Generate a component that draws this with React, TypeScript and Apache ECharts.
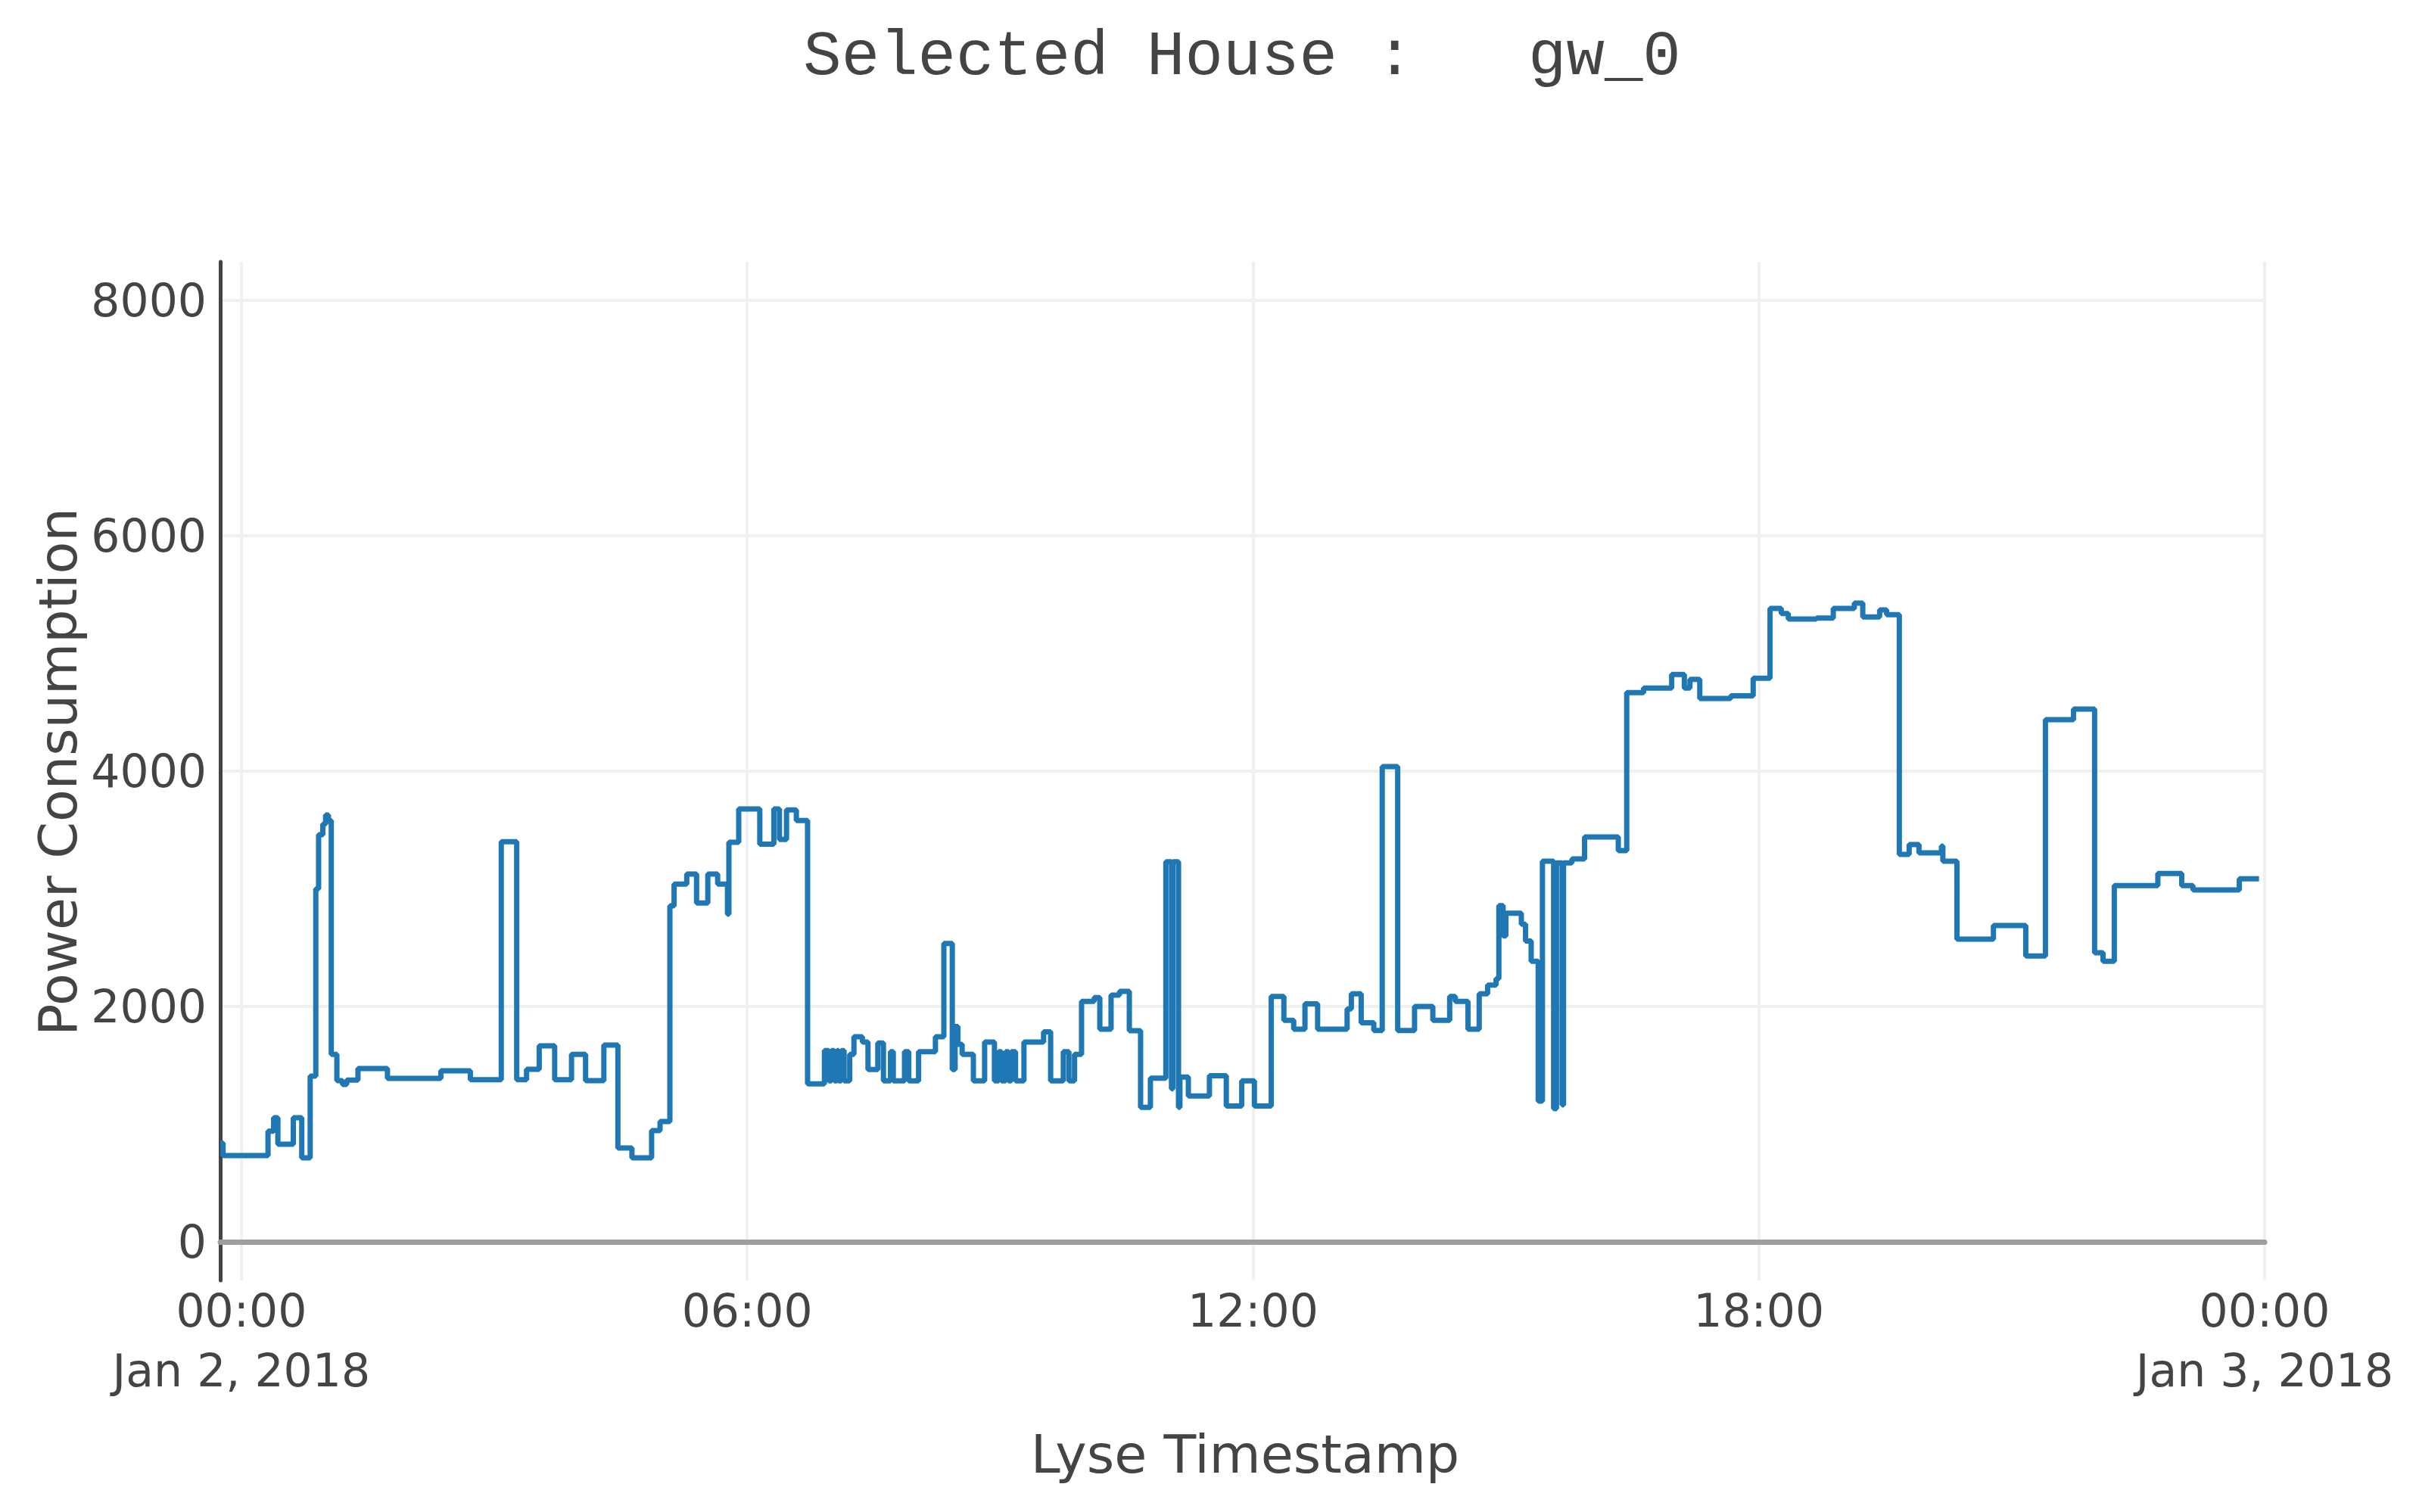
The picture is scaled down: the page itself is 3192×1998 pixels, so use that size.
import React, { useEffect, useRef } from "react";
import * as echarts from "echarts";

// Minutes after 2018-01-02 00:00 (negative = Jan 1 evening)
const sampleMinutes = [
  -15, -13, 19, 23, 26, 37, 43, 49, 53, 55, 58, 60, 62, 64, 68, 72, 75, 83,
  104, 142, 163, 185, 196, 203, 212, 223, 235, 245, 258, 268, 278, 292, 298,
  305, 308, 317, 324, 332, 339, 346, 347, 354, 369, 379, 383, 388, 395, 403,
  415, 418, 420, 422, 424, 425, 427, 429, 433, 436, 442, 446, 453, 457, 462,
  464, 472, 475, 482, 494, 500, 506, 508, 510, 513, 521, 529, 536, 539, 541,
  544, 546, 548, 551, 557, 571, 576, 585, 589, 593, 598, 607, 611, 619, 625,
  632, 640, 647, 658, 662, 663, 667, 668, 674, 689, 701, 712, 721, 733, 742,
  749, 757, 766, 787, 790, 797, 806, 812, 823, 835, 848, 860, 864, 873, 881,
  887, 893, 895, 898, 900, 911, 914, 918, 923, 926, 934, 936, 940, 941, 947,
  956, 980, 986, 998, 1018, 1027, 1031, 1038, 1060, 1076, 1088, 1096, 1101,
  1121, 1133, 1148, 1154, 1166, 1171, 1180, 1187, 1194, 1210, 1211, 1221,
  1247, 1270, 1284, 1304, 1319, 1325, 1333, 1364, 1381, 1389, 1422, 1436,
];

const powerConsumption = [
  840, 733, 940, 1055, 829, 1055, 714, 1408, 3000, 3460, 3550, 3627, 3580, 1594, 1369, 1337, 1375, 1472,
  1389, 1453, 1377, 3401, 1377, 1466, 1665, 1377, 1594, 1369, 1672, 797, 714, 945, 1022,
  2855, 3040, 3125, 2880, 3125, 3040, 2784, 3395, 3678, 3380, 3678, 3420, 3670, 3580, 1343,
  1625, 1368, 1625, 1368, 1625, 1368, 1625, 1368, 1593, 1743, 1698, 1464, 1690, 1368, 1615,
  1368, 1615, 1368, 1615, 1743, 2535, 1464, 1830, 1678, 1593, 1368, 1698, 1368, 1615, 1368,
  1615, 1368, 1615, 1368, 1698, 1785, 1368, 1615, 1368, 1593, 2043, 2075, 1807, 2097, 2129,
  1795, 1143, 1390, 3230, 1300, 3230, 1143, 1400, 1239, 1411, 1154, 1368, 1154, 2086, 1882,
  1807, 2022, 1807, 1979, 2107, 1861, 1796, 4038, 1796, 2000, 1882, 2086, 2043, 1807, 2107,
  2182, 2236, 2857, 2600, 2793, 2700, 2557, 2384, 1196, 3234, 1132, 3220, 1164, 3221, 3254,
  3440, 3324, 4668, 4706, 4822, 4706, 4780, 4617, 4640, 4790, 5382, 5340, 5292,
  5300, 5382, 5427, 5311, 5369, 5330, 3292, 3376, 3305, 3363, 3234, 2572,
  2688, 2430, 4437, 4527, 2456, 2385, 3028, 3131, 3028, 2990, 3086, 3086,
];

const xTickMinutes = [0, 360, 720, 1080, 1440];
const yTickValues = [0, 2000, 4000, 6000, 8000];
const MONTHS = ["Jan", "Feb", "Mar", "Apr", "May", "Jun", "Jul", "Aug", "Sep", "Oct", "Nov", "Dec"];
const BASE_DATE = new Date(2018, 0, 2);

const TITLE = "Selected House :\u00A0\u00A0\u00A0gw_0";
const X_TITLE = "Lyse Timestamp";
const Y_TITLE = "Power Consumption";

const pad = (n: number) => (n < 10 ? "0" + n : String(n));

function tickLabel(m: number): string {
  const d = new Date(BASE_DATE.getTime() + m * 60000);
  const hhmm = pad(d.getHours()) + ":" + pad(d.getMinutes());
  if (d.getHours() === 0 && d.getMinutes() === 0) {
    return hhmm + "\n" + MONTHS[d.getMonth()] + " " + d.getDate() + ", " + d.getFullYear();
  }
  return hhmm;
}

export default function App() {
  const ref = useRef<HTMLDivElement>(null);

  useEffect(() => {
    if (!ref.current) return;
    const chart = echarts.init(ref.current, null, { renderer: "svg" });
    const data = sampleMinutes.map((m, i) => [m, powerConsumption[i]]);
    const sans = "'DejaVu Sans', Verdana, sans-serif";

    chart.setOption({
      animation: false,
      backgroundColor: "#ffffff",
      grid: { left: 291, right: 200, top: 346, bottom: 306, containLabel: false },
      xAxis: {
        type: "value",
        min: -15,
        max: 1440,
        axisLine: { show: true, onZero: true, lineStyle: { color: "#9e9e9e", width: 7 } },
        axisTick: { show: false, customValues: xTickMinutes },
        axisLabel: {
          customValues: xTickMinutes,
          formatter: (v: number) => tickLabel(v),
          fontFamily: sans,
          fontSize: 60,
          lineHeight: 79,
          color: "#444444",
          margin: 0,
        },
        splitLine: { show: true, lineStyle: { color: "#f0f0f0", width: 4 } },
      },
      yAxis: {
        type: "value",
        min: -328,
        max: 8328,
        axisLine: { show: true, onZero: false, lineStyle: { color: "#444444", width: 5 } },
        axisTick: { show: false, customValues: yTickValues },
        axisLabel: {
          customValues: yTickValues,
          formatter: (v: number) => String(v),
          fontFamily: sans,
          fontSize: 60,
          color: "#444444",
          margin: 18,
        },
        splitLine: { show: true, lineStyle: { color: "#f0f0f0", width: 4 } },
      },
      graphic: [
        {
          type: "text",
          x: 1641,
          y: 75,
          style: {
            text: TITLE,
            fill: "#444444",
            font: "84px 'Liberation Mono', 'Courier New', monospace",
            align: "center",
            verticalAlign: "middle",
          },
        },
        {
          type: "text",
          x: 1645,
          y: 1922,
          style: {
            text: X_TITLE,
            fill: "#444444",
            font: "70px 'DejaVu Sans', Verdana, sans-serif",
            align: "center",
            verticalAlign: "middle",
          },
        },
        {
          type: "text",
          x: 77,
          y: 1020,
          rotation: Math.PI / 2,
          style: {
            text: Y_TITLE,
            fill: "#444444",
            font: "70px 'DejaVu Sans', Verdana, sans-serif",
            align: "center",
            verticalAlign: "middle",
          },
        },
      ],
      series: [
        {
          type: "line",
          step: "end",
          data,
          showSymbol: false,
          symbol: "none",
          lineStyle: { color: "#1f77b4", width: 7 },
          itemStyle: { color: "#1f77b4" },
          silent: true,
        },
      ],
    });

    return () => chart.dispose();
  }, []);

  return (
    <div
      ref={ref}
      style={{ position: "fixed", left: 0, top: 0, width: 3192, height: 1998, background: "#fff" }}
    />
  );
}
